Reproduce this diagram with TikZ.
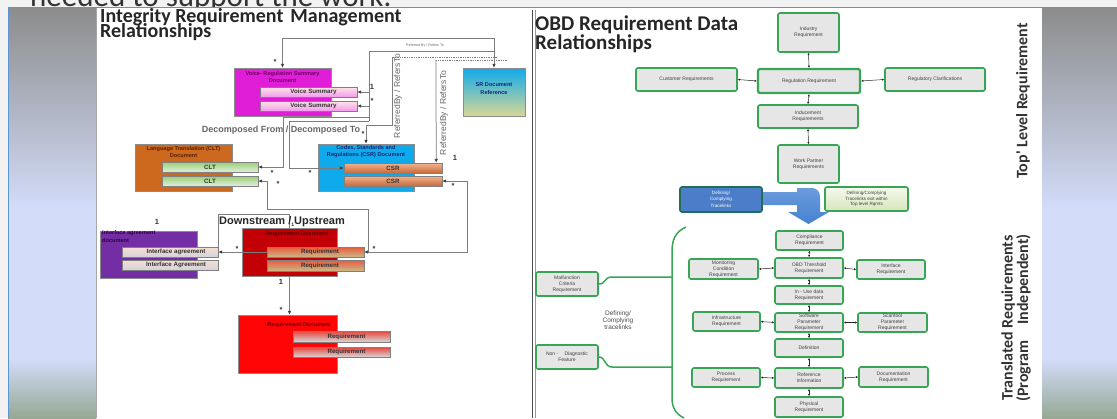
\documentclass[tikz,border=0pt]{standalone}
\usepackage{fontspec}
\setmainfont{Liberation Sans}
\newfontfamily\calfont{Carlito}
\usetikzlibrary{arrows.meta}
\newcommand{\myfs}[2]{\fontsize{#1}{#2}\selectfont}
\definecolor{stripbg}{RGB}{242,242,242}
\definecolor{bargray}{RGB}{140,140,140}
\definecolor{barblue}{RGB}{211,221,250}
\definecolor{bargreen}{RGB}{150,168,148}
\definecolor{frameblue}{RGB}{90,150,210}
\definecolor{conngray}{RGB}{125,125,125}
\definecolor{vrcol}{RGB}{225,30,215}
\definecolor{vrtext}{RGB}{110,0,100}
\definecolor{csrcol}{RGB}{15,170,235}
\definecolor{csrtext}{RGB}{20,40,120}
\definecolor{cltcol}{RGB}{205,105,30}
\definecolor{clttext}{RGB}{90,30,0}
\definecolor{ifcol}{RGB}{115,45,165}
\definecolor{iftext}{RGB}{50,0,70}
\definecolor{rdcol}{RGB}{195,0,5}
\definecolor{rdtext}{RGB}{100,0,0}
\definecolor{rd2col}{RGB}{255,5,5}
\definecolor{obdgreen}{RGB}{55,165,85}
\definecolor{obdfill}{RGB}{230,230,230}
\definecolor{bluebox}{RGB}{75,125,200}
\definecolor{bluearr}{RGB}{70,130,210}
\begin{document}
\begin{tikzpicture}[x=1pt,y=-1pt,
  conn/.style={draw=conngray, line width=0.75pt},
  endarrow/.style={-{Latex[length=4pt,width=3.6pt,color=black!75]}},
  startarrow/.style={{Latex[length=4pt,width=3.6pt,color=black!75]}-},
  twoarrows/.style={{Latex[length=4pt,width=3.6pt,color=black!75]}-{Latex[length=4pt,width=3.6pt,color=black!75]}},
  mult/.style={font=\bfseries\myfs{7.5}{7.5}, text=black!80, inner sep=0},
  docbox/.style={draw=black!45, line width=0.4pt, inner sep=0},
  doctitle/.style={font=\bfseries\myfs{5.6}{7.4}, align=center, inner sep=0},
  subbox/.style={draw=black!50, line width=0.4pt, inner sep=0, font=\bfseries\myfs{6.2}{6.2}, text=black!80, minimum height=10pt},
  obd/.style={draw=obdgreen, line width=1.6pt, rounded corners=2pt, fill=obdfill, inner sep=0, align=center, font=\myfs{5}{5.8}, text=black!75},
  obdar/.style={draw=black!85, line width=0.5pt, {Latex[length=2.2pt,width=2.2pt]}-{Latex[length=2.2pt,width=2.2pt]}}
]
\useasboundingbox (0,0) rectangle (1117,418);
% ---------- slide background ----------
\fill[stripbg] (0,0) rectangle (1117,418);
\node[anchor=base west, inner sep=0, font=\calfont\myfs{31}{31}, text=black!80] (cut) at (30,6) {needed to support the work.};
\shade[top color=bargray, bottom color=barblue] (8,7) rectangle (96,210);
\fill[barblue] (8,210) rectangle (96,358);
\shade[top color=barblue, bottom color=bargreen] (8,358) rectangle (96,418);
\shade[top color=bargray, bottom color=barblue] (1042,7) rectangle (1117,210);
\fill[barblue] (1042,210) rectangle (1117,358);
\shade[top color=barblue, bottom color=bargreen] (1042,358) rectangle (1117,418);
\fill[white] (97,7) rectangle (1042,418);
\draw[black!35, line width=0.8pt] (96.5,7) -- (96.5,418);
\draw[frameblue, line width=1.2pt] (8.6,418) -- (8.6,7.6) -- (1117,7.6);
\draw[black!70, line width=1.3pt] (532.5,10) -- (532.5,418);
\draw[black!40, line width=0.6pt] (535,10) -- (535,418);
% ---------- titles ----------
\node[anchor=base west, inner sep=0, font=\calfont\bfseries\myfs{20}{20}, text=black!85] (t1a) at (100,22.5) {Integrity Requirement\hspace{7pt}Management};
\node[anchor=base west, inner sep=0, font=\calfont\bfseries\myfs{20}{20}, text=black!85] (t1b) at (100,37) {Relationships};
\node[anchor=base west, inner sep=0, font=\calfont\bfseries\myfs{21}{21}, text=black!85] (t2a) at (535,30) {OBD Requirement Data};
\node[anchor=base west, inner sep=0, font=\calfont\bfseries\myfs{21}{21}, text=black!85] (t2b) at (535,49) {Relationships};
\node[rotate=90, inner sep=0, font=\calfont\bfseries\myfs{16}{16}, text=black!80] (tl) at (1023,101) {Top' Level Requirement};
\node[rotate=90, inner sep=0, align=center, font=\calfont\bfseries\myfs{16}{15.5}, text=black!80] (tr) at (1016,318) {Translated Requirements\\(Program\quad Independent)};
% ---------- left diagram boxes ----------
\node[docbox, fill=vrcol, minimum width=97pt, minimum height=48pt] (vr) at (282.5,92) {};
\node[doctitle, text=vrtext] (vrt) at (282.5,77) {Voice- Regulation Summary\\Document};
\node[subbox, top color=pink!40, bottom color=vrcol!45, minimum width=97pt] (vs1) at (308.5,92) {\hspace*{10pt}Voice Summary};
\node[subbox, top color=pink!40, bottom color=vrcol!45, minimum width=97pt] (vs2) at (308.5,106) {\hspace*{10pt}Voice Summary};
\node[docbox, top color=csrcol, bottom color={rgb,255:red,215;green,215;blue,150}, minimum width=62pt, minimum height=48pt] (sr) at (494,92) {};
\node[doctitle, text=csrtext] (srt) at (494,88.5) {SR Document\\Reference};
\node[docbox, fill=csrcol, minimum width=96pt, minimum height=47pt] (csrd) at (366,167.5) {};
\node[doctitle, text=csrtext] (csrt) at (366,151.5) {Codes, Standards and\\Regulations (CSR) Document};
\node[subbox, top color={rgb,255:red,242;green,180;blue,145}, bottom color={rgb,255:red,200;green,105;blue,55}, minimum width=98pt] (csr1) at (393,168) {CSR};
\node[subbox, top color={rgb,255:red,242;green,180;blue,145}, bottom color={rgb,255:red,200;green,105;blue,55}, minimum width=98pt] (csr2) at (393,181) {CSR};
\node[docbox, fill=cltcol, minimum width=97pt, minimum height=47pt] (cltd) at (183.5,167.5) {};
\node[doctitle, text=clttext] (cltt) at (183.5,152) {Language Translation (CLT)\\Document};
\node[subbox, top color={rgb,255:red,150;green,210;blue,110}, bottom color={rgb,255:red,228;green,236;blue,228}, minimum width=96pt] (clt1) at (210,167) {CLT};
\node[subbox, top color={rgb,255:red,150;green,210;blue,110}, bottom color={rgb,255:red,228;green,236;blue,228}, minimum width=96pt] (clt2) at (210,181) {CLT};
\node[docbox, fill=ifcol, minimum width=97pt, minimum height=47pt] (ifd) at (148.5,254.5) {};
\node[doctitle, text=iftext, align=left, anchor=north west] (ift) at (102,230.5) {Interface agreement\\document};
\node[subbox, top color={rgb,255:red,246;green,222;blue,210}, bottom color={rgb,255:red,212;green,210;blue,220}, minimum width=96pt] (ifa1) at (170,252) {\hspace*{12pt}Interface agreement};
\node[subbox, top color={rgb,255:red,246;green,222;blue,210}, bottom color={rgb,255:red,212;green,210;blue,220}, minimum width=96pt] (ifa2) at (170,265) {\hspace*{12pt}Interface Agreement};
\node[docbox, fill=rdcol, minimum width=95pt, minimum height=48pt] (rd1) at (289.5,252) {};
\node[doctitle, text=rdtext] (rd1t) at (297,234) {Requirement Document};
\node[subbox, top color={rgb,255:red,235;green,90;blue,60}, middle color={rgb,255:red,212;green,190;blue,140}, bottom color={rgb,255:red,200;green,185;blue,135}, minimum width=97pt] (rq1) at (315.5,252) {\hspace*{9pt}Requirement};
\node[subbox, top color={rgb,255:red,235;green,90;blue,60}, middle color={rgb,255:red,212;green,190;blue,140}, bottom color={rgb,255:red,200;green,185;blue,135}, minimum width=97pt, minimum height=11pt] (rq2) at (315.5,265.5) {\hspace*{9pt}Requirement};
\node[docbox, fill=rd2col, minimum width=99pt, minimum height=58pt] (rd2) at (287.5,344) {};
\node[doctitle, text=rdtext] (rd2t) at (299,325) {Requirement Document};
\node[subbox, top color={rgb,255:red,230;green,70;blue,60}, middle color=white, bottom color={rgb,255:red,215;green,215;blue,215}, minimum width=97pt, minimum height=11pt] (rq3) at (341.5,336.5) {\hspace*{10pt}Requirement};
\node[subbox, top color={rgb,255:red,230;green,70;blue,60}, middle color=white, bottom color={rgb,255:red,215;green,215;blue,215}, minimum width=97pt] (rq4) at (341.5,352) {\hspace*{10pt}Requirement};
% ---------- left diagram connectors ----------
\draw[conn, twoarrows] (vr.north) -- ++(0,-29) -| (sr.north);
\node[inner sep=0, font=\myfs{3.6}{3.6}, text=black!60] (rbl) at (425,46) {Referred By / Refers To};
\draw[conn] (369,121) -- (369,51) -- (494,51);
\draw[conn, endarrow] (369,92) -- (vs1.east);
\draw[conn, endarrow] (369,106) -- (vs2.east);
\draw[conn, endarrow] (369,117) -- (283,117) -- (283,167) -- (clt1.east);
\draw[conn, endarrow] (369,121) -- (289,121) -- (289,168) -- (csr1.west);
\draw[conn, densely dotted, line width=1pt] (497,57) -- (392,57);
\draw[conn, endarrow] (392,57) -- (392,125) -- (366,125) -- (csrd.north);
\draw[conn, densely dotted, line width=1pt] (507,60) -- (436,60);
\draw[conn, endarrow] (436,60) -- ([xshift=-6pt]csr1.north east);
\draw[conn, startarrow] (clt2.east) -- (267,181) -- (267,209) -- (368,209) -- (368,252);
\draw[conn, twoarrows] (csr2.east) -- (467,181) -- (467,252) -- (rq1.east);
\draw[conn, endarrow] (rq1.west) -- (ifa1.east);
\draw[conn] (rd1.north) -- ++(0,-13) -| (218,252);
\draw[conn, endarrow] (rd1.south) -- (rd1.south |- rd2.north);
\node[inner sep=0, font=\bfseries\myfs{9}{9}, text=black!60] (dec) at (281,130) {Decomposed From / Decomposed To};
\node[anchor=base west, inner sep=0, font=\bfseries\myfs{11}{11}, text=black!85] (down) at (219,224.5) {Downstream /\raisebox{-1.5pt}{\myfs{5}{5}1}Upstream};
\node[rotate=90, inner sep=0, font=\myfs{8.5}{8.5}, text=black!60] (rb1) at (398,96) {ReferredBy / RefersTo};
\node[rotate=90, inner sep=0, font=\myfs{8.5}{8.5}, text=black!60] (rb2) at (444,113) {ReferredBy / RefersTo};
% multiplicities
\node[mult] (m1) at (275,62) {*};
\node[mult] (m2) at (372,87) {1};
\node[mult] (m3) at (372,101) {*};
\node[mult] (m4) at (272,173) {*};
\node[mult] (m5) at (310,173) {*};
\node[mult] (m6) at (278,184) {*};
\node[mult] (m7) at (363,134) {*};
\node[mult] (m8) at (455,158) {1};
\node[mult] (m9) at (453,186) {*};
\node[mult] (m10) at (374,249) {*};
\node[mult] (m11) at (237,249) {*};
\node[mult] (m12) at (157,222) {1};
\node[mult] (m13) at (281,282) {1};
\node[mult] (m14) at (281,310) {*};
% ---------- right diagram ----------
\node[obd, minimum width=61pt, minimum height=39pt] (ind) at (808.5,32.5) {Industry\\Requirement};
\node[obd, minimum width=101pt, minimum height=23pt] (cust) at (686.5,79.5) {Customer Requirements};
\node[obd, line width=2.2pt, minimum width=102pt, minimum height=24pt] (reg) at (809,81) {Regulation Requirement};
\node[obd, minimum width=100pt, minimum height=23pt] (regcl) at (935,79.5) {Regulatory Clarifications};
\node[obd, minimum width=100pt, minimum height=23pt] (indu) at (808,116.5) {Inducement\\Requirements};
\node[obd, minimum width=61pt, minimum height=38pt] (work) at (808.5,164) {Work Partner\\Requirements};
\shade[top color=bluearr!80, bottom color=bluearr] (762,192) -- (797,192) -- (797,188) -- (812,188) .. controls (817,188) and (820,192) .. (820,197) -- (820,212) -- (829,212) -- (808.5,224) -- (788,212) -- (797,212) -- (797,205) -- (762,205) -- cycle;
\node[obd, draw={rgb,255:red,30;green,110;blue,90}, fill=bluebox, text=white, font=\myfs{4.6}{5.2}, minimum width=82pt, minimum height=25pt] (defb) at (721,199.5) {Defining/\\Complying\\[2pt]Tracelinks};
\node[obd, top color={rgb,255:red,246;green,249;blue,236}, bottom color={rgb,255:red,214;green,230;blue,190}, font=\myfs{4.6}{5.4}, minimum width=83pt, minimum height=24pt] (exitb) at (866.5,199) {Defining/Complying\\Tracelinks exit within\\Top level Rqmts};
\node[obd, minimum width=67pt, minimum height=19pt] (comp) at (809.5,240.5) {Compliance\\Requirement};
\node[obd, minimum width=69pt, minimum height=20pt] (mon) at (723.5,269) {Monitoring\\Condition\\Requirement};
\node[obd, minimum width=68pt, minimum height=20pt] (obdt) at (809,268) {OBD Threshold\\Requirement};
\node[obd, minimum width=68pt, minimum height=19pt] (intf) at (891,269.5) {Interface\\Requirement};
\node[obd, minimum width=68pt, minimum height=18pt] (puse) at (809,295) {In - Use data\\Requirement};
\node[obd, minimum width=67pt, minimum height=19pt] (infra) at (726.5,321.5) {Infrastructure\\Requirement};
\node[obd, minimum width=68pt, minimum height=19pt] (soft) at (809,322.5) {Software\\Parameter\\Requirement};
\node[obd, minimum width=69pt, minimum height=19pt] (scan) at (892.5,322.5) {Scantool\\Parameter\\Requirement};
\node[obd, minimum width=68pt, minimum height=18pt] (defn) at (809,348) {Definition};
\node[obd, minimum width=68pt, minimum height=19pt] (proc) at (726,377.5) {Process\\Requirement};
\node[obd, minimum width=68pt, minimum height=20pt] (refi) at (809,378) {Reference\\Information};
\node[obd, minimum width=69pt, minimum height=20pt] (docu) at (893.5,377) {Documentation\\Requirement};
\node[obd, minimum width=68pt, minimum height=20pt] (phys) at (809,407) {Physical\\Requirement};
\node[obd, minimum width=62pt, minimum height=24pt] (malf) at (567,284) {Malfunction\\Criteria\\Requirement};
\node[obd, minimum width=62pt, minimum height=24pt] (nond) at (567,357) {Non - \quad Diagnostic\\Feature};
\node[inner sep=0, align=center, font=\myfs{6.5}{7}, text=black!70] (dct) at (618,320) {Defining/\\Complying\\tracelinks};
% brace and links
\draw[obdgreen, line width=1.5pt] (686,227) .. controls (675,232) and (672,240) .. (672,252) -- (672,398) .. controls (672,408) and (676,414) .. (684,418);
\draw[obdgreen, line width=1.5pt] (malf.east) .. controls (606,284) and (604,277) .. (612,277) -- (672,277);
\draw[obdgreen, line width=1.5pt] (nond.east) .. controls (606,357) and (604,367) .. (612,367) -- (672,367);
% small arrows
\draw[obdar] (ind.south) -- (reg.north);
\draw[obdar] (cust.east) -- (reg.west);
\draw[obdar] (reg.east) -- (regcl.west);
\draw[obdar] (reg.south) -- (indu.south |- indu.north);
\draw[obdar] (indu.south) -- (work.north);
\draw[obdar] (comp.south) -- (obdt.north);
\draw[obdar] (mon.east) -- (obdt.west);
\draw[obdar] (obdt.east) -- (intf.west);
\draw[obdar] (obdt.south) -- (puse.north);
\draw[obdar] (puse.south) -- (soft.north);
\draw[obdar] (infra.east) -- (soft.west);
\draw[obdar] (soft.east) -- (scan.west);
\draw[obdar] (soft.south) -- (defn.north);
\draw[obdar] (defn.south) -- (refi.north);
\draw[obdar] (proc.east) -- (refi.west);
\draw[obdar] (refi.east) -- (docu.west);
\draw[obdar] (refi.south) -- (phys.north);
\end{tikzpicture}
\end{document}
